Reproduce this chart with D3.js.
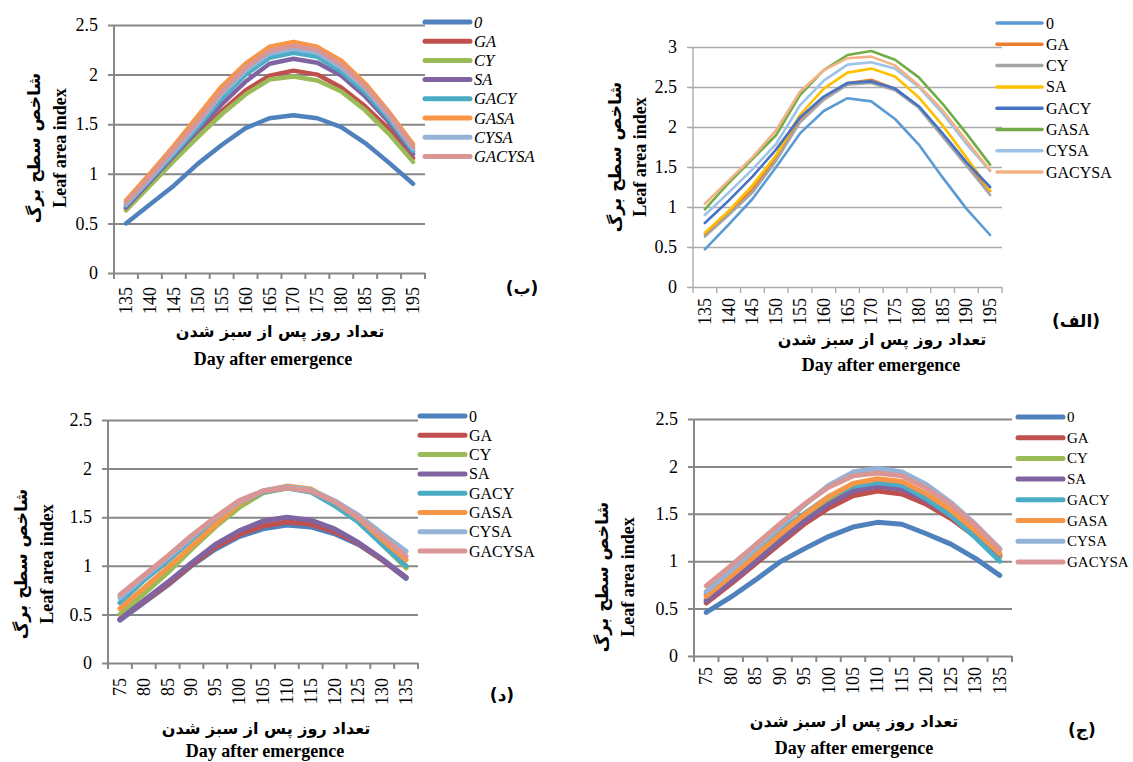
<!DOCTYPE html>
<html>
<head>
<meta charset="utf-8">
<script src="https://cdn.jsdelivr.net/npm/d3@7"></script>
<style>
  body { margin: 0; background: #fff; }
  text { font-family: "Liberation Serif", "Times New Roman", serif; fill: #000; }
  .fa { font-family: "DejaVu Sans", sans-serif; font-weight: bold; }
</style>
</head>
<body>
<div id="chart"></div>
<script>
// category labels (days after emergence)
const daysLate = ["135", "140", "145", "150", "155", "160", "165", "170", "175", "180", "185", "190", "195"];
const daysEarly = ["75", "80", "85", "90", "95", "100", "105", "110", "115", "120", "125", "130", "135"];
const treatments = ["0", "GA", "CY", "SA", "GACY", "GASA", "CYSA", "GACYSA"];

// panel (الف) - top right
const alef0      = [0.47, 0.78, 1.10, 1.50, 1.92, 2.20, 2.36, 2.32, 2.10, 1.78, 1.37, 0.98, 0.65];
const alefGA     = [0.66, 0.93, 1.22, 1.62, 2.10, 2.36, 2.55, 2.59, 2.48, 2.25, 1.90, 1.54, 1.20];
const alefCY     = [0.63, 0.90, 1.18, 1.58, 2.06, 2.34, 2.53, 2.55, 2.46, 2.24, 1.88, 1.52, 1.15];
const alefSA     = [0.68, 0.95, 1.27, 1.65, 2.15, 2.48, 2.68, 2.73, 2.63, 2.37, 2.02, 1.62, 1.21];
const alefGACY   = [0.80, 1.08, 1.38, 1.72, 2.12, 2.38, 2.55, 2.57, 2.48, 2.26, 1.92, 1.56, 1.25];
const alefGASA   = [0.97, 1.30, 1.60, 1.90, 2.40, 2.71, 2.90, 2.95, 2.84, 2.62, 2.29, 1.92, 1.53];
const alefCYSA   = [0.90, 1.18, 1.47, 1.79, 2.27, 2.58, 2.78, 2.81, 2.73, 2.50, 2.17, 1.79, 1.45];
const alefGACYSA = [1.04, 1.33, 1.62, 1.96, 2.44, 2.71, 2.86, 2.88, 2.77, 2.52, 2.21, 1.83, 1.46];

// panel (ب) - top left
const be0      = [0.50, 0.69, 0.88, 1.10, 1.29, 1.46, 1.56, 1.59, 1.56, 1.47, 1.31, 1.11, 0.90];
const beGA     = [0.65, 0.90, 1.15, 1.40, 1.63, 1.84, 1.99, 2.04, 2.00, 1.87, 1.68, 1.45, 1.16];
const beCY     = [0.63, 0.88, 1.13, 1.37, 1.60, 1.80, 1.95, 1.98, 1.94, 1.83, 1.64, 1.40, 1.12];
const beSA     = [0.66, 0.92, 1.18, 1.44, 1.70, 1.93, 2.11, 2.16, 2.12, 1.99, 1.78, 1.52, 1.20];
const beGACY   = [0.68, 0.94, 1.20, 1.47, 1.76, 2.00, 2.17, 2.22, 2.18, 2.03, 1.82, 1.55, 1.23];
const beGASA   = [0.73, 1.00, 1.28, 1.58, 1.88, 2.11, 2.28, 2.33, 2.28, 2.14, 1.91, 1.62, 1.30];
const beCYSA   = [0.69, 0.95, 1.22, 1.50, 1.80, 2.04, 2.21, 2.26, 2.22, 2.07, 1.86, 1.58, 1.25];
const beGACYSA = [0.71, 0.97, 1.25, 1.53, 1.83, 2.07, 2.24, 2.29, 2.25, 2.10, 1.88, 1.60, 1.27];

// panel (ج) - bottom right
const jim0      = [0.46, 0.62, 0.80, 0.99, 1.13, 1.26, 1.36, 1.41, 1.39, 1.29, 1.18, 1.03, 0.85];
const jimGA     = [0.56, 0.76, 0.97, 1.18, 1.39, 1.56, 1.69, 1.74, 1.71, 1.60, 1.45, 1.26, 1.05];
const jimCY     = [0.60, 0.80, 1.02, 1.24, 1.46, 1.65, 1.78, 1.83, 1.79, 1.67, 1.50, 1.28, 1.04];
const jimSA     = [0.58, 0.78, 0.99, 1.21, 1.42, 1.60, 1.74, 1.79, 1.76, 1.64, 1.48, 1.28, 1.07];
const jimGACY   = [0.65, 0.86, 1.08, 1.31, 1.50, 1.68, 1.79, 1.83, 1.80, 1.66, 1.48, 1.25, 1.00];
const jimGASA   = [0.63, 0.84, 1.06, 1.28, 1.49, 1.68, 1.82, 1.87, 1.84, 1.71, 1.54, 1.32, 1.08];
const jimCYSA   = [0.68, 0.90, 1.13, 1.36, 1.59, 1.80, 1.94, 1.98, 1.94, 1.81, 1.62, 1.39, 1.13];
const jimGACYSA = [0.74, 0.95, 1.17, 1.39, 1.60, 1.78, 1.90, 1.93, 1.90, 1.77, 1.60, 1.38, 1.12];

// panel (د) - bottom left
const dal0      = [0.44, 0.62, 0.80, 1.00, 1.17, 1.30, 1.38, 1.42, 1.40, 1.33, 1.22, 1.06, 0.87];
const dalGA     = [0.45, 0.63, 0.81, 1.01, 1.19, 1.32, 1.41, 1.45, 1.43, 1.35, 1.23, 1.06, 0.88];
const dalCY     = [0.50, 0.71, 0.93, 1.17, 1.40, 1.60, 1.75, 1.80, 1.77, 1.64, 1.47, 1.22, 0.98];
const dalSA     = [0.45, 0.64, 0.83, 1.03, 1.22, 1.36, 1.46, 1.50, 1.47, 1.38, 1.24, 1.07, 0.88];
const dalGACY   = [0.62, 0.85, 1.05, 1.27, 1.46, 1.64, 1.76, 1.80, 1.76, 1.62, 1.45, 1.22, 1.00];
const dalGASA   = [0.56, 0.77, 0.98, 1.20, 1.42, 1.64, 1.77, 1.82, 1.79, 1.66, 1.49, 1.27, 1.06];
const dalCYSA   = [0.67, 0.88, 1.08, 1.29, 1.49, 1.66, 1.77, 1.81, 1.78, 1.67, 1.52, 1.33, 1.15];
const dalGACYSA = [0.70, 0.90, 1.10, 1.31, 1.50, 1.67, 1.77, 1.80, 1.77, 1.66, 1.50, 1.30, 1.10];

const ticks25 = [0, 0.5, 1, 1.5, 2, 2.5];
const ticks3 = [0, 0.5, 1, 1.5, 2, 2.5, 3];

// Excel 2007 and Excel 2013 palettes
const colors2007 = ["#4F81BD", "#C0504D", "#9BBB59", "#8064A2", "#4BACC6", "#F79646", "#95B3D7", "#D99694"];
const colors2013 = ["#5B9BD5", "#ED7D31", "#A5A5A5", "#FFC000", "#4472C4", "#70AD47", "#9DC3E6", "#F4B183"];

const faX = "تعداد روز پس از سبز شدن";
const faY = "شاخص سطح برگ";

const svg = d3.select('#chart').append('svg')
    .attr('width', 1133)
    .attr('height', 762)
    .style('background', '#fff');

function drawPanel(p) {
    const g = svg.append('g');
    const x = d3.scaleBand().domain(p.days).range([p.left, p.right]);
    const y = d3.scaleLinear().domain([0, p.yMax]).range([p.bottom, p.top]);
    const half = x.bandwidth() / 2;

    // gridlines + y tick labels
    const yAxis = g.append('g')
        .attr('transform', `translate(${p.left - 6},0)`)
        .call(d3.axisLeft(y).tickValues(p.yTicks).tickSize(-(p.right - p.left + 6))
            .tickPadding(10).tickFormat(d3.format('')));
    yAxis.select('.domain').remove();
    yAxis.selectAll('line').attr('stroke', p.grid).attr('stroke-width', p.gridW);
    yAxis.selectAll('text')
        .style('font-family', '"Liberation Serif", serif')
        .style('font-size', '18px')
        .attr('fill', '#000');

    // y axis line
    g.append('line')
        .attr('x1', p.left).attr('x2', p.left)
        .attr('y1', y(p.yMax)).attr('y2', y(0))
        .attr('stroke', p.grid).attr('stroke-width', p.gridW);

    // x tick marks between categories
    const bounds = d3.range(p.days.length + 1).map(i => x.range()[0] + i * x.step());
    g.selectAll('.xt').data(bounds).enter().append('line')
        .attr('x1', d => d).attr('x2', d => d)
        .attr('y1', y(0)).attr('y2', y(0) + 6)
        .attr('stroke', p.grid).attr('stroke-width', p.gridW);

    // x labels (rotated)
    g.selectAll('.xl').data(p.days).enter().append('text')
        .attr('transform', d => `translate(${x(d) + half},${y(0) + p.labelGap}) rotate(-90)`)
        .attr('text-anchor', 'end')
        .attr('dominant-baseline', 'central')
        .style('font-size', '18px')
        .text(d => d);

    // series lines
    const line = d3.line()
        .x((v, i) => x(p.days[i]) + half)
        .y(v => y(v));
    p.series.forEach((s, i) => {
        g.append('path')
            .datum(s)
            .attr('d', line)
            .attr('fill', 'none')
            .attr('stroke', p.colors[i])
            .attr('stroke-width', p.lineW)
            .attr('stroke-linejoin', 'round')
            .attr('stroke-linecap', 'round');
    });

    // legend
    treatments.forEach((t, i) => {
        const ly = p.legY + i * p.legStep;
        g.append('line')
            .attr('x1', p.legX).attr('x2', p.legX + 45)
            .attr('y1', ly).attr('y2', ly)
            .attr('stroke', p.colors[i])
            .attr('stroke-width', p.legW)
            .attr('stroke-linecap', 'round');
        g.append('text')
            .attr('x', p.legX + 49).attr('y', ly)
            .attr('dominant-baseline', 'central')
            .style('font-size', p.legFont + 'px')
            .style('font-style', p.italic ? 'italic' : 'normal')
            .text(t);
    });

    // y axis titles
    g.append('text')
        .attr('class', 'fa')
        .attr('transform', `translate(${p.faYx},${p.yTitleY}) rotate(-90)`)
        .attr('text-anchor', 'middle')
        .attr('dominant-baseline', 'central')
        .attr('direction', 'rtl')
        .style('font-size', '17px')
        .text(faY);
    g.append('text')
        .attr('transform', `translate(${p.enYx},${p.yTitleY}) rotate(-90)`)
        .attr('text-anchor', 'middle')
        .attr('dominant-baseline', 'central')
        .style('font-size', '18px')
        .style('font-weight', 'bold')
        .text('Leaf area index');

    // x axis titles
    g.append('text')
        .attr('class', 'fa')
        .attr('x', p.faXx).attr('y', p.faXy)
        .attr('text-anchor', 'middle')
        .attr('dominant-baseline', 'central')
        .attr('direction', 'rtl')
        .style('font-size', '16px')
        .text(faX);
    g.append('text')
        .attr('x', p.enXx).attr('y', p.enXy)
        .attr('text-anchor', 'middle')
        .attr('dominant-baseline', 'central')
        .style('font-size', '18px')
        .style('font-weight', 'bold')
        .text('Day after emergence');

    // panel letter
    g.append('text')
        .attr('class', 'fa')
        .attr('x', p.tagX).attr('y', p.tagY)
        .attr('text-anchor', 'middle')
        .attr('dominant-baseline', 'central')
        .attr('direction', 'rtl')
        .style('font-size', '17px')
        .text(p.tag);
}

// (ب) top left
drawPanel({
    days: daysLate, yMax: 2.5, yTicks: ticks25,
    series: [be0, beGA, beCY, beSA, beGACY, beGASA, beCYSA, beGACYSA],
    colors: colors2007, italic: true, legFont: 16.5,
    left: 114, right: 425, top: 25, bottom: 273,
    grid: '#878787', gridW: 2, lineW: 4.5, legW: 5, labelGap: 14,
    legX: 425, legY: 22, legStep: 19.2,
    faYx: 34, enYx: 60, yTitleY: 148,
    faXx: 280, faXy: 331, enXx: 273, enXy: 359,
    tag: '(ب)', tagX: 522, tagY: 288
});

// (الف) top right
drawPanel({
    days: daysLate, yMax: 3, yTicks: ticks3,
    series: [alef0, alefGA, alefCY, alefSA, alefGACY, alefGASA, alefCYSA, alefGACYSA],
    colors: colors2013, italic: false, legFont: 16,
    left: 693, right: 1002, top: 47, bottom: 287,
    grid: '#ABABAB', gridW: 1.4, lineW: 2.6, legW: 3.5, labelGap: 11,
    legX: 997, legY: 23, legStep: 21.3,
    faYx: 615, enYx: 640, yTitleY: 157,
    faXx: 882, faXy: 339, enXx: 881, enXy: 365,
    tag: '(الف)', tagX: 1076, tagY: 321
});

// (د) bottom left
drawPanel({
    days: daysEarly, yMax: 2.5, yTicks: ticks25,
    series: [dal0, dalGA, dalCY, dalSA, dalGACY, dalGASA, dalCYSA, dalGACYSA],
    colors: colors2007, italic: false, legFont: 16,
    left: 108, right: 418, top: 420, bottom: 663,
    grid: '#878787', gridW: 2, lineW: 5, legW: 5, labelGap: 15,
    legX: 420, legY: 416, legStep: 19.3,
    faYx: 21, enYx: 47, yTitleY: 564,
    faXx: 266, faXy: 728, enXx: 265, enXy: 751,
    tag: '(د)', tagX: 502, tagY: 695
});

// (ج) bottom right
drawPanel({
    days: daysEarly, yMax: 2.5, yTicks: ticks25,
    series: [jim0, jimGA, jimCY, jimSA, jimGACY, jimGASA, jimCYSA, jimGACYSA],
    colors: colors2007, italic: false, legFont: 15,
    left: 694, right: 1012, top: 419, bottom: 656,
    grid: '#878787', gridW: 2, lineW: 5, legW: 5, labelGap: 11,
    legX: 1018, legY: 417, legStep: 20.7,
    faYx: 602, enYx: 628, yTitleY: 577,
    faXx: 854, faXy: 721, enXx: 854, enXy: 748,
    tag: '(ج)', tagX: 1082, tagY: 730
});
</script>
</body>
</html>
